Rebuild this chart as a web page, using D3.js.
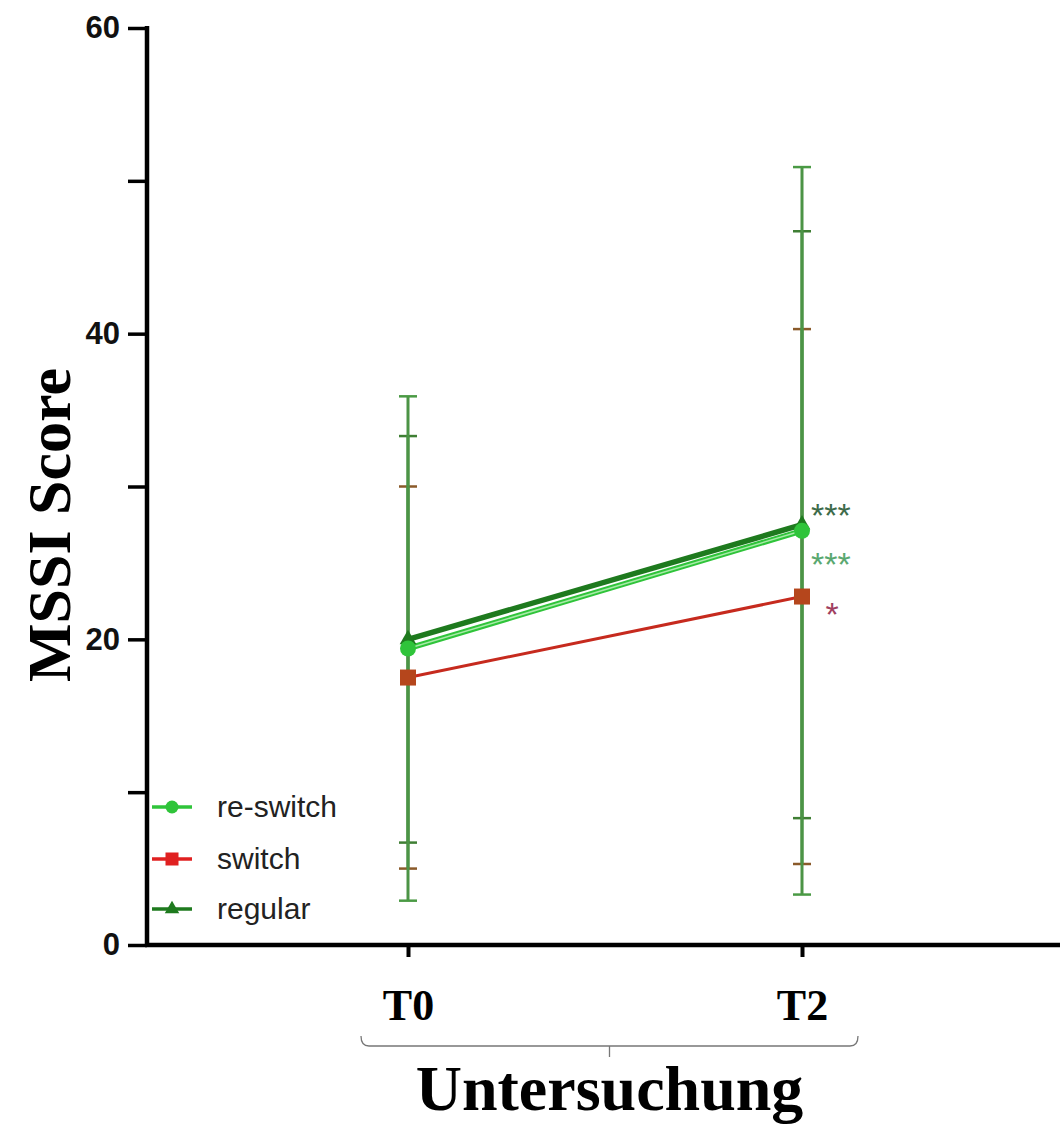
<html>
<head>
<script src="https://d3js.org/d3.v7.min.js"></script>
<style>
  body { margin: 0; background: #fff; }
</style>
</head>
<body>
<div id="chart"></div>
<script>
// data
var timepoints = ["T0", "T2"];
var seriesNames = ["re-switch", "switch", "regular"];
var reswitchMean = [19.4, 27.1];
var reswitchSD = [16.5, 23.8];
var switchMean = [17.5, 22.8];
var switchSD = [12.5, 17.5];
var regularMean = [20.0, 27.5];
var regularSD = [13.3, 19.2];
var stars = ["***", "*", "***"];
var yTicks = [0, 10, 20, 30, 40, 50, 60];

var width = 1060, height = 1128;
var svg = d3.select("#chart").append("svg")
  .attr("width", width).attr("height", height);

var x = d3.scalePoint().domain(timepoints).range([408, 802]);
var y = d3.scaleLinear().domain([0, 60]).range([945, 28]);

var series = [
  {name: "switch", mean: switchMean, sd: switchSD, color: "#c62a1e", bar: "#8a5a2a", star: stars[1], starColor: "#a04060", starDy: 29, lw: 3},
  {name: "regular", mean: regularMean, sd: regularSD, color: "#1e7a1e", bar: "#3f7f34", star: stars[2], starColor: "#3d6b4a", starDy: 2, lw: 5.5},
  {name: "re-switch", mean: reswitchMean, sd: reswitchSD, color: "#2fc43a", bar: "#4a9a44", star: stars[0], starColor: "#5aa870", starDy: 45, lw: 5.5}
];

// error bars
series.forEach(function(s) {
  var g = svg.append("g");
  timepoints.forEach(function(t, i) {
    var lo = s.mean[i] - s.sd[i], hi = s.mean[i] + s.sd[i];
    g.append("line").attr("x1", x(t)).attr("x2", x(t))
      .attr("y1", y(lo)).attr("y2", y(hi))
      .attr("stroke", "#4c9446").attr("stroke-width", 3);
    [lo, hi].forEach(function(v) {
      g.append("line").attr("x1", x(t) - 9).attr("x2", x(t) + 9)
        .attr("y1", y(v)).attr("y2", y(v))
        .attr("stroke", s.bar).attr("stroke-width", 2.5);
    });
  });
});

// lines
var line = d3.line().x(function(d) { return x(d.t); }).y(function(d) { return y(d.v); });
series.forEach(function(s) {
  var pts = timepoints.map(function(t, i) { return {t: t, v: s.mean[i]}; });
  svg.append("path").datum(pts).attr("d", line)
    .attr("fill", "none").attr("stroke", s.color).attr("stroke-width", s.lw);
  if (s.name == "re-switch") {
    svg.append("path").datum(pts).attr("d", line)
      .attr("fill", "none").attr("stroke", "#a8eaa8").attr("stroke-width", 1.5);
  }
});

// markers
function marker(sel, name, cx, cy, big) {
  var r = big ? 8 : 6.5;
  if (name == "re-switch") {
    sel.append("circle").attr("cx", cx).attr("cy", cy).attr("r", r).attr("fill", "#2fc43a");
  } else if (name == "switch") {
    sel.append("rect").attr("x", cx - r).attr("y", cy - r).attr("width", 2 * r).attr("height", 2 * r)
      .attr("fill", big ? "#b5461c" : "#e02020");
  } else {
    sel.append("path").attr("d", d3.symbol(d3.symbolTriangle, big ? 120 : 90)())
      .attr("transform", "translate(" + cx + "," + cy + ")").attr("fill", "#1e7a1e");
  }
}
series.forEach(function(s) {
  timepoints.forEach(function(t, i) { marker(svg, s.name, x(t), y(s.mean[i]), true); });
});

// significance stars at T2
series.forEach(function(s) {
  svg.append("text").attr("x", s.star.length == 1 ? x("T2") + 30 : x("T2") + 9)
    .attr("y", y(s.mean[1]) + s.starDy)
    .attr("text-anchor", s.star.length == 1 ? "middle" : "start")
    .attr("font-family", "Liberation Sans, Arial, sans-serif").attr("font-size", 34)
    .attr("fill", s.starColor).text(s.star);
});

// y axis
var yAxis = d3.axisLeft(y).tickValues(yTicks).tickSize(19).tickPadding(8)
  .tickFormat(function(d) { return d % 20 == 0 ? d : ""; });
svg.append("g").attr("transform", "translate(147,0)").call(yAxis)
  .call(function(g) { g.select(".domain").remove(); })
  .call(function(g) {
    g.selectAll(".tick line").attr("stroke", "#000").attr("stroke-width", 3.5);
    g.selectAll(".tick text").attr("font-family", "Liberation Sans, Arial, sans-serif")
      .attr("font-size", 31).attr("font-weight", "bold").attr("fill", "#111");
  });

// x axis
var xAxis = d3.axisBottom(x).tickSize(12).tickPadding(32);
svg.append("g").attr("transform", "translate(0,945)").call(xAxis)
  .call(function(g) { g.select(".domain").remove(); })
  .call(function(g) {
    g.selectAll(".tick line").attr("stroke", "#000").attr("stroke-width", 4);
    g.selectAll(".tick text").attr("font-family", "Liberation Serif, Times New Roman, serif")
      .attr("font-size", 44).attr("font-weight", "bold").attr("fill", "#000");
  });

svg.append("line").attr("x1", 147).attr("x2", 147).attr("y1", 26).attr("y2", 947)
  .attr("stroke", "#000").attr("stroke-width", 4.5);
svg.append("line").attr("x1", 145).attr("x2", 1060).attr("y1", 945).attr("y2", 945)
  .attr("stroke", "#000").attr("stroke-width", 4.5);

// bracket under the time points
var bx0 = 361, bx1 = 858, bmid = (bx0 + bx1) / 2, by = 1046;
svg.append("path")
  .attr("d", "M" + bx0 + "," + (by - 10) + " Q" + bx0 + "," + by + " " + (bx0 + 8) + "," + by +
    " L" + (bx1 - 8) + "," + by + " Q" + bx1 + "," + by + " " + bx1 + "," + (by - 10) +
    " M" + bmid + "," + by + " L" + bmid + "," + (by + 11))
  .attr("fill", "none").attr("stroke", "#777").attr("stroke-width", 1.3);

// axis titles
svg.append("text").attr("x", bmid).attr("y", 1110).attr("text-anchor", "middle")
  .attr("font-family", "Liberation Serif, Times New Roman, serif")
  .attr("font-size", 64).attr("font-weight", "bold").text("Untersuchung");
svg.append("text").attr("transform", "translate(70,525) rotate(-90)").attr("text-anchor", "middle")
  .attr("font-family", "Liberation Serif, Times New Roman, serif")
  .attr("font-size", 62).attr("font-weight", "bold").text("MSSI Score");

// legend
var legY = [807, 859, 909];
seriesNames.forEach(function(n, i) {
  var col = n == "re-switch" ? "#2fc43a" : n == "switch" ? "#e02020" : "#1e7a1e";
  svg.append("line").attr("x1", 152).attr("x2", 192).attr("y1", legY[i]).attr("y2", legY[i])
    .attr("stroke", col).attr("stroke-width", 3.5);
  marker(svg, n, 172, legY[i], false);
  svg.append("text").attr("x", 217).attr("y", legY[i] + 10)
    .attr("font-family", "Liberation Sans, Arial, sans-serif")
    .attr("font-size", 30).attr("fill", "#222").text(n);
});
</script>
</body>
</html>
